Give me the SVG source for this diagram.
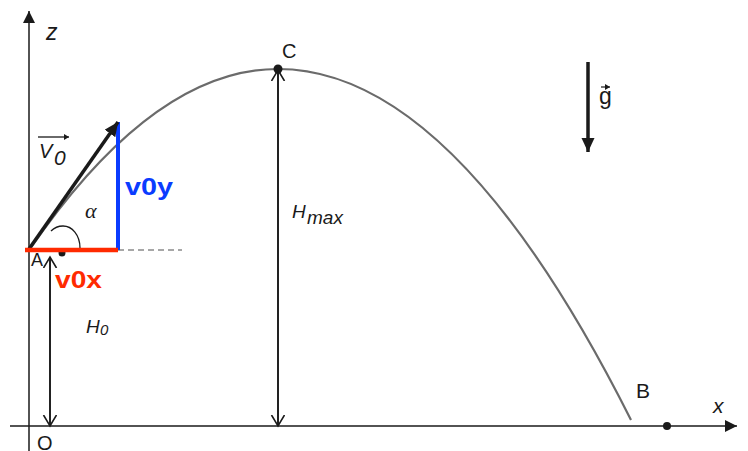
<svg xmlns="http://www.w3.org/2000/svg" width="748" height="451" viewBox="0 0 748 451">
<style>
.ax{stroke:#1a1a1a;stroke-width:1.5;fill:none}
.dim{stroke:#1a1a1a;stroke-width:1.6;fill:none}
.traj{stroke:#6b6b6b;stroke-width:2.2;fill:none}
.lbl{font-family:"Liberation Sans",Arial,sans-serif;fill:#1a1a1a}
.it{font-style:italic}
.ser{font-family:"Liberation Serif","Times New Roman",serif}
.big{font-family:"Liberation Sans",Arial,sans-serif;font-weight:bold}
</style>
<defs>
<marker id="fill" markerUnits="userSpaceOnUse" markerWidth="14" markerHeight="14" refX="12" refY="6" orient="auto">
<path d="M0,0 L12,6 L0,12 Z" fill="#1a1a1a"/>
</marker>
<marker id="fillBig" markerUnits="userSpaceOnUse" markerWidth="16" markerHeight="14" refX="14" refY="6.5" orient="auto">
<path d="M0,0 L14,6.5 L0,13 Z" fill="#1a1a1a"/>
</marker>
<marker id="open" markerUnits="userSpaceOnUse" markerWidth="14" markerHeight="16" refX="11" refY="7" orient="auto">
<path d="M0,0.5 L11,7 L0,13.5" fill="none" stroke="#1a1a1a" stroke-width="1.6"/>
</marker>
<marker id="tiny" markerUnits="userSpaceOnUse" markerWidth="6" markerHeight="6" refX="5" refY="3" orient="auto">
<path d="M0,0 L5,3 L0,6 Z" fill="#1a1a1a"/>
</marker>
</defs>
<rect width="748" height="451" fill="#ffffff"/>

<g id="axes">
<line class="ax" x1="29" y1="451" x2="29" y2="11" marker-end="url(#fill)"/>
<line class="ax" x1="10" y1="426" x2="737" y2="426" marker-end="url(#fill)"/>
<text class="lbl it" x="46" y="40" font-size="23">z</text>
<text class="lbl it" x="713" y="413" font-size="21">x</text>
<text class="lbl" x="37" y="450" font-size="20">O</text>
</g>

<g id="trajectory">
<path class="traj" d="M30,249 Q154,69 278,69 Q454.5,69 631,420"/>
</g>

<g id="point-A">
<text class="lbl" x="31" y="266" font-size="18">A</text>
<circle cx="62" cy="253" r="3.5" fill="#1a1a1a"/>
</g>

<g id="point-C">
<circle cx="278" cy="69" r="4.5" fill="#1a1a1a"/>
<text class="lbl" x="282" y="58" font-size="20">C</text>
</g>

<g id="point-B">
<circle cx="667" cy="426" r="4" fill="#1a1a1a"/>
<text class="lbl" x="636" y="398" font-size="21">B</text>
</g>

<g id="connectors">
<line x1="118" y1="250" x2="182" y2="250" stroke="#8a8a8a" stroke-width="1.3" stroke-dasharray="6 4"/>
<line class="dim" x1="50" y1="426" x2="50" y2="257" marker-end="url(#open)"/>
<line class="dim" x1="50" y1="257" x2="50" y2="426" marker-end="url(#open)"/>
<line class="dim" x1="278" y1="426" x2="278" y2="70" marker-end="url(#open)"/>
<line class="dim" x1="278" y1="70" x2="278" y2="426" marker-end="url(#open)"/>
<line x1="588" y1="62" x2="588" y2="152" stroke="#1a1a1a" stroke-width="3.5" marker-end="url(#fillBig)"/>
<path d="M80,248 C80,235 72,226 63,226 C58,226 54,228 51,231" fill="none" stroke="#1a1a1a" stroke-width="1.3"/>
<line x1="118" y1="250" x2="118" y2="122" stroke="#0a3cff" stroke-width="4"/>
<line x1="29" y1="249" x2="118" y2="122" stroke="#1a1a1a" stroke-width="3.5" marker-end="url(#fillBig)"/>
<line x1="25" y1="250" x2="118" y2="250" stroke="#ff2a00" stroke-width="4.5"/>
</g>

<g id="labels">
<line x1="38" y1="137" x2="69" y2="137" stroke="#1a1a1a" stroke-width="1.3" marker-end="url(#tiny)"/>
<text class="lbl it" x="39" y="158" font-size="20">V</text>
<text class="lbl it" x="54" y="165" font-size="21">0</text>
<text class="ser it" x="85" y="218" font-size="22" fill="#1a1a1a">α</text>
<text class="big" x="125" y="195" font-size="24" fill="#0a3cff" textLength="48" lengthAdjust="spacingAndGlyphs">v0y</text>
<text class="big" x="55" y="288" font-size="23" fill="#ff2a00" textLength="47" lengthAdjust="spacingAndGlyphs">v0x</text>
<text class="lbl it" x="86" y="333" font-size="19">H</text>
<text class="lbl it" x="100" y="335" font-size="15">0</text>
<text class="lbl it" x="292" y="218" font-size="19">H</text>
<text class="lbl it" x="307" y="224" font-size="19">max</text>
<line x1="601" y1="87" x2="610" y2="87" stroke="#1a1a1a" stroke-width="1.2" marker-end="url(#tiny)"/>
<text class="lbl" x="599" y="104" font-size="23">g</text>
</g>
</svg>
